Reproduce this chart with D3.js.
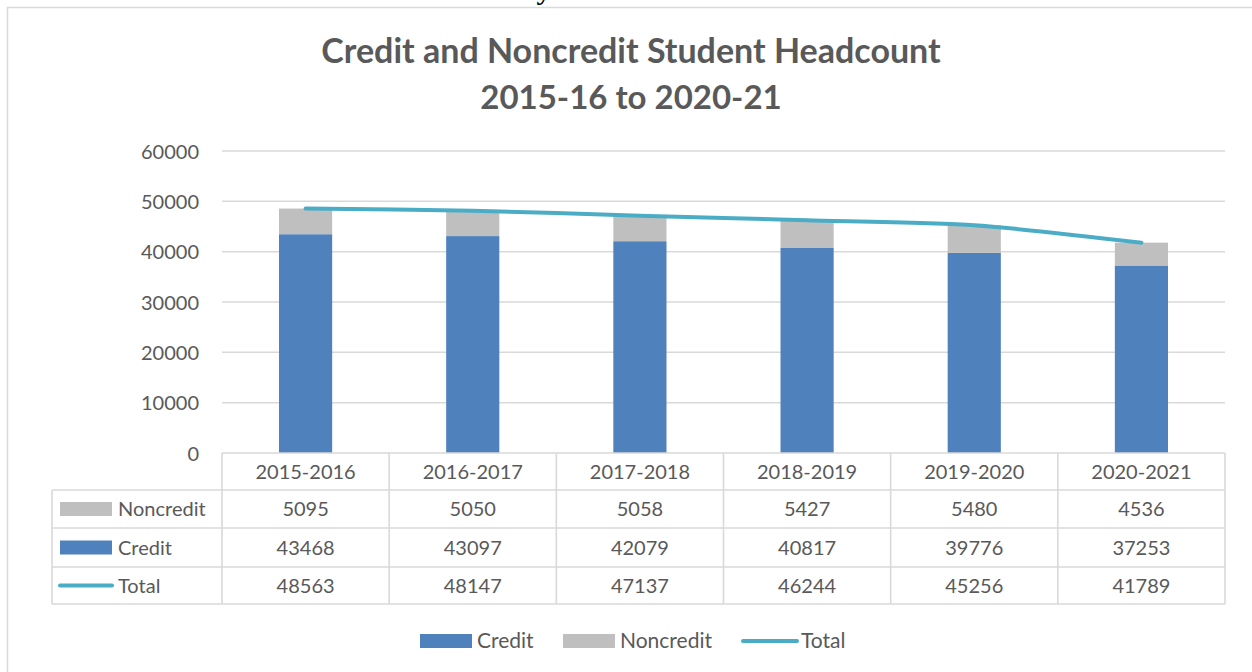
<!DOCTYPE html>
<html>
<head>
<meta charset="utf-8">
<script src="https://cdn.jsdelivr.net/npm/d3@7"></script>
<style>
  html, body { margin: 0; padding: 0; background: #fff; }
  svg { display: block; }
  text { font-family: Lato, "Open Sans", sans-serif; }
</style>
</head>
<body>
<svg id="chart" width="1252" height="672"></svg>
<script>
const categories = ["2015-2016", "2016-2017", "2017-2018", "2018-2019", "2019-2020", "2020-2021"];
const noncredit = [5095, 5050, 5058, 5427, 5480, 4536];
const credit = [43468, 43097, 42079, 40817, 39776, 37253];
const total = [48563, 48147, 47137, 46244, 45256, 41789];
const yTicks = [0, 10000, 20000, 30000, 40000, 50000, 60000];
const titleLines = ["Credit and Noncredit Student Headcount", "2015-16 to 2020-21"];
const captionText = "Credit and Noncredit Student Headcount by Academic Year";

const C = { credit: "#4f81bd", noncredit: "#bfbfbf", total: "#4bacc6", grid: "#d9d9d9", text: "#595959" };

const svg = d3.select("#chart");

// caption (cut off at top in reference)
svg.append("text").attr("x", 10).attr("y", 0)
  .attr("textLength", 730).attr("lengthAdjust", "spacingAndGlyphs")
  .style("font-family", "'Liberation Serif', serif").style("font-weight", "bold")
  .style("font-size", "26px").attr("fill", "#000").text(captionText);

// chart border
svg.append("rect").attr("x", 7.5).attr("y", 7.5).attr("width", 1300).attr("height", 700)
  .attr("fill", "none").attr("stroke", C.grid).attr("stroke-width", 1.5);

// title
svg.append("text").attr("x", 631).attr("y", 63).attr("text-anchor", "middle")
  .style("font-weight", "bold").style("font-size", "34px").attr("fill", C.text)
  .text(titleLines[0]);
svg.append("text").attr("x", 631).attr("y", 109).attr("text-anchor", "middle")
  .style("font-weight", "bold").style("font-size", "33px").attr("fill", C.text)
  .text(titleLines[1]);

const x = d3.scaleBand().domain(categories).range([222, 1225]);
const y = d3.scaleLinear().domain([0, 60000]).range([453, 151]);

// gridlines
svg.append("g").selectAll("line").data(yTicks.filter(d => d > 0)).join("line")
  .attr("x1", 222).attr("x2", 1225)
  .attr("y1", d => y(d)).attr("y2", d => y(d))
  .attr("stroke", C.grid).attr("stroke-width", 1.5);

// y axis labels
const yAxis = d3.axisLeft(y).tickValues(yTicks).tickSize(0).tickPadding(0).tickFormat(d3.format("d"));
const ga = svg.append("g").attr("transform", "translate(199,0)").call(yAxis);
ga.select(".domain").remove();
ga.selectAll("text").style("font-family", "Lato, sans-serif").style("font-size", "20px").attr("fill", C.text).attr("dy", "0.35em");

// bars
const bw = x.bandwidth() * 0.318;
const bars = svg.append("g");
bars.selectAll("rect.credit").data(categories).join("rect").attr("class", "credit")
  .attr("x", d => x(d) + x.bandwidth() / 2 - bw / 2).attr("width", bw)
  .attr("y", (d, i) => y(credit[i])).attr("height", (d, i) => y(0) - y(credit[i]))
  .attr("fill", C.credit);
bars.selectAll("rect.noncredit").data(categories).join("rect").attr("class", "noncredit")
  .attr("x", d => x(d) + x.bandwidth() / 2 - bw / 2).attr("width", bw)
  .attr("y", (d, i) => y(credit[i] + noncredit[i])).attr("height", (d, i) => y(credit[i]) - y(credit[i] + noncredit[i]))
  .attr("fill", C.noncredit);

// total line
const line = d3.line().x((d, i) => x(categories[i]) + x.bandwidth() / 2).y(d => y(d)).curve(d3.curveCardinal.tension(0.3));
svg.append("path").datum(total).attr("d", line).attr("fill", "none")
  .attr("stroke", C.total).attr("stroke-width", 4).attr("stroke-linecap", "round");

// data table
const tbl = svg.append("g");
const rowsY = [453, 490, 528, 567, 604];
function ln(x1, y1, x2, y2) {
  tbl.append("line").attr("x1", x1).attr("y1", y1).attr("x2", x2).attr("y2", y2)
    .attr("stroke", C.grid).attr("stroke-width", 1.6);
}
ln(222, rowsY[0], 1225, rowsY[0]);
for (let r = 1; r < rowsY.length; r++) ln(52, rowsY[r], 1225, rowsY[r]);
const vx = categories.map(c => x(c)).concat([1225]);
vx.forEach(v => ln(v, rowsY[0], v, rowsY[4]));
ln(52, rowsY[1], 52, rowsY[4]);

tbl.selectAll("text.hdr").data(categories).join("text").attr("class", "hdr")
  .attr("x", d => x(d) + x.bandwidth() / 2).attr("y", (rowsY[0] + rowsY[1]) / 2 + 7)
  .attr("text-anchor", "middle").style("font-size", "20px").attr("fill", C.text).text(d => d);

const tableRows = [
  { name: "Noncredit", vals: noncredit, kind: "rect", color: C.noncredit },
  { name: "Credit", vals: credit, kind: "rect", color: C.credit },
  { name: "Total", vals: total, kind: "line", color: C.total }
];
tableRows.forEach((row, r) => {
  const cy = (rowsY[r + 1] + rowsY[r + 2]) / 2;
  if (row.kind === "rect") {
    tbl.append("rect").attr("x", 60).attr("y", cy - 7).attr("width", 52).attr("height", 14).attr("fill", row.color);
  } else {
    tbl.append("line").attr("x1", 60).attr("x2", 112).attr("y1", cy).attr("y2", cy)
      .attr("stroke", row.color).attr("stroke-width", 4).attr("stroke-linecap", "round");
  }
  tbl.append("text").attr("x", 118).attr("y", cy + 7).style("font-size", "20px").attr("fill", C.text).text(row.name);
  tbl.selectAll(null).data(categories).join("text")
    .attr("x", d => x(d) + x.bandwidth() / 2).attr("y", cy + 7)
    .attr("text-anchor", "middle").style("font-size", "20px").attr("fill", C.text)
    .text((d, i) => row.vals[i]);
});

// bottom legend
const leg = svg.append("g");
const legItems = [
  { name: "Credit", kind: "rect", color: C.credit, x: 420 },
  { name: "Noncredit", kind: "rect", color: C.noncredit, x: 563 },
  { name: "Total", kind: "line", color: C.total, x: 743 }
];
legItems.forEach(it => {
  if (it.kind === "rect") {
    leg.append("rect").attr("x", it.x).attr("y", 634).attr("width", 52).attr("height", 14).attr("fill", it.color);
    leg.append("text").attr("x", it.x + 57).attr("y", 648).style("font-size", "21px").attr("fill", C.text).text(it.name);
  } else {
    leg.append("line").attr("x1", it.x).attr("x2", it.x + 54).attr("y1", 641).attr("y2", 641)
      .attr("stroke", it.color).attr("stroke-width", 4).attr("stroke-linecap", "round");
    leg.append("text").attr("x", it.x + 58).attr("y", 648).style("font-size", "21px").attr("fill", C.text).text(it.name);
  }
});
</script>
</body>
</html>
